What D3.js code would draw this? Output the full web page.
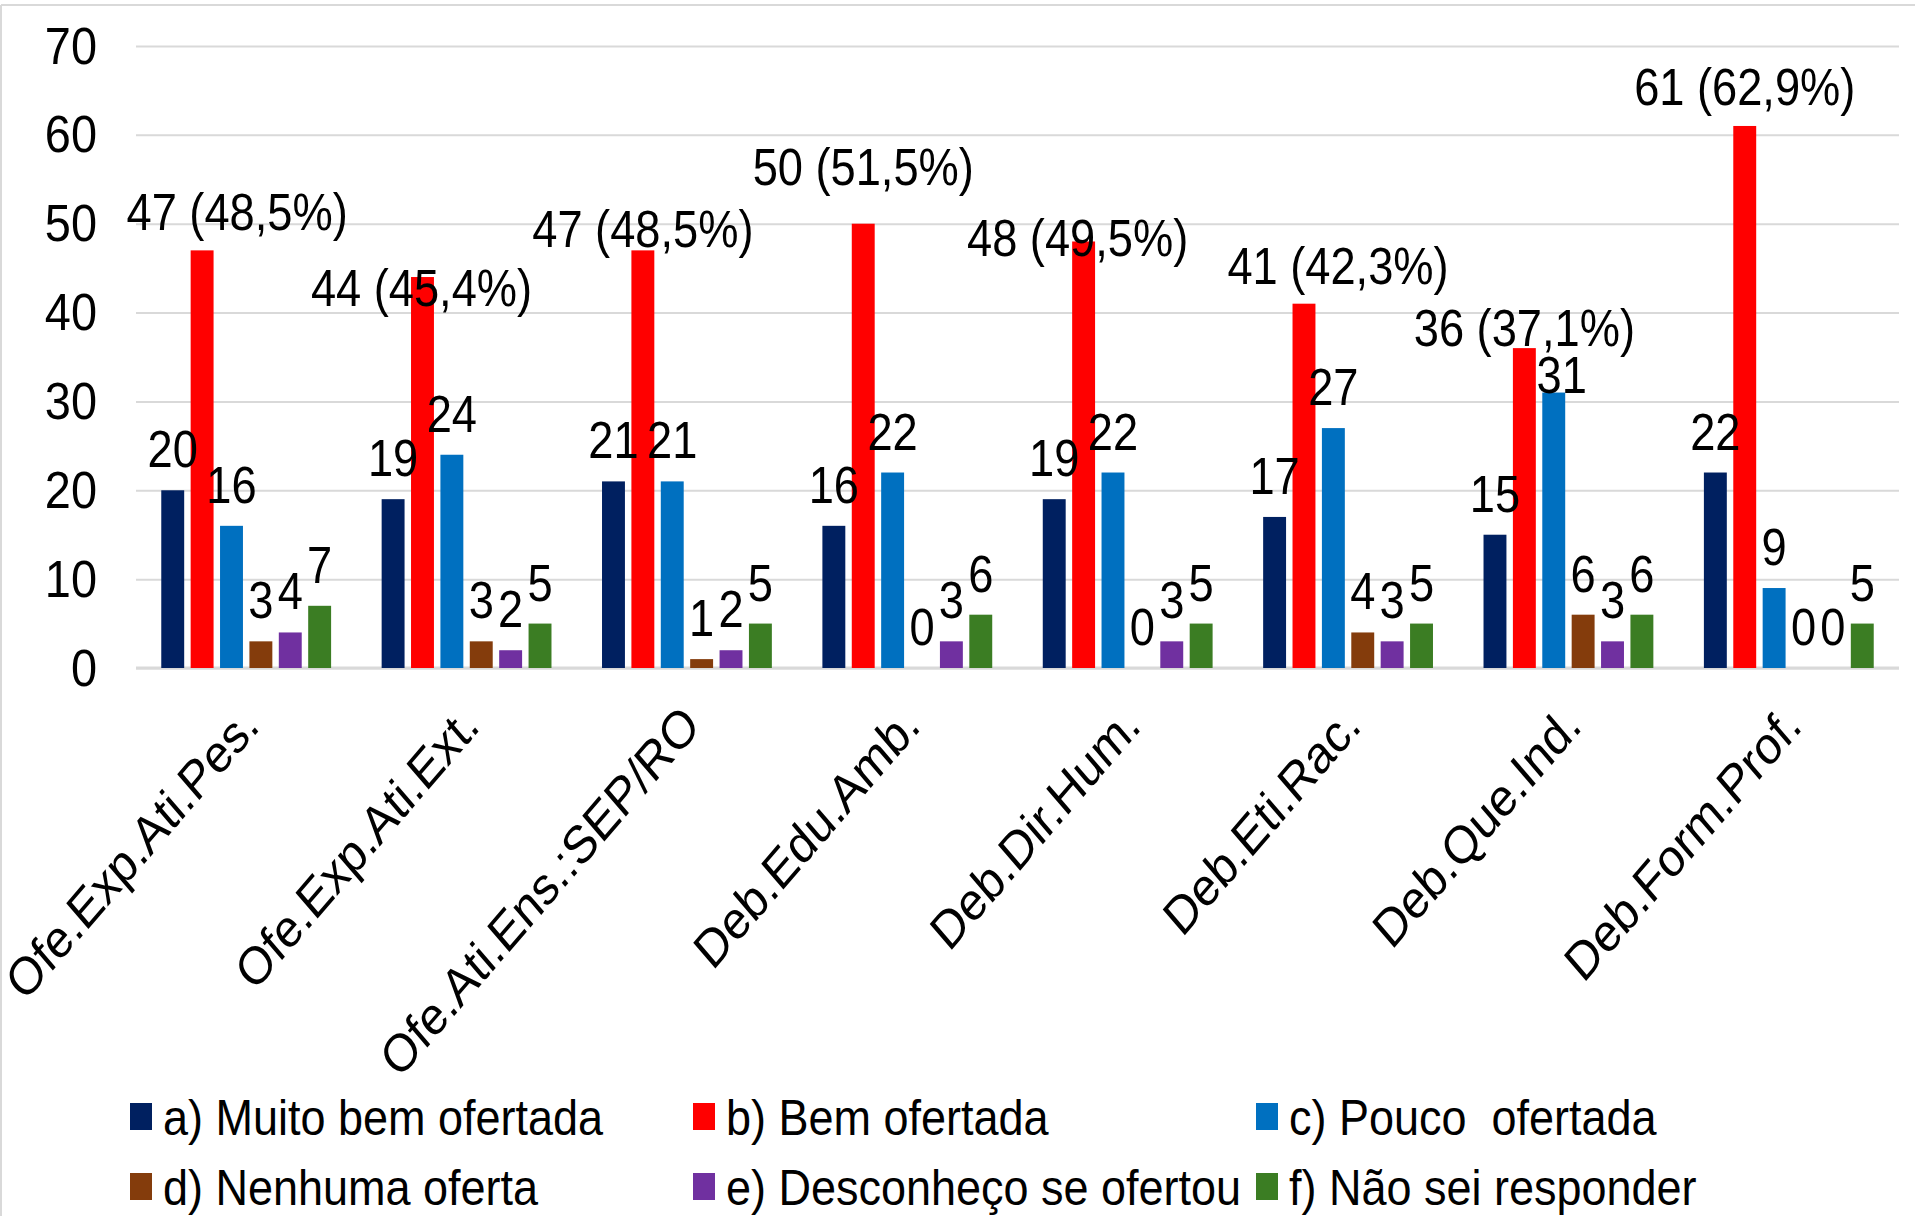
<!DOCTYPE html>
<html>
<head>
<meta charset="utf-8">
<script src="https://cdn.jsdelivr.net/npm/d3@7/dist/d3.min.js"></script>
<style>
  body { margin: 0; background: #fff; }
  svg { display: block; }
  text { font-family: "Liberation Sans", Arial, sans-serif; fill: #000; }
</style>
</head>
<body>
<div id="chart"></div>
<script>
// --- data ---
const categories = [
    "Ofe.Exp.Ati.Pes.", "Ofe.Exp.Ati.Ext.", "Ofe.Ati.Ens.:SEP/RO", "Deb.Edu.Amb.",
    "Deb.Dir.Hum.", "Deb.Eti.Rac.", "Deb.Que.Ind.", "Deb.Form.Prof."
];
const seriesNames = [
    "a) Muito bem ofertada", "b) Bem ofertada", "c) Pouco  ofertada",
    "d) Nenhuma oferta", "e) Desconheço se ofertou", "f) Não sei responder"
];
const muitoBem    = [20, 19, 21, 16, 19, 17, 15, 22];
const bem         = [47, 44, 47, 50, 48, 41, 36, 61];
const pouco       = [16, 24, 21, 22, 22, 27, 31, 9];
const nenhuma     = [3, 3, 1, 0, 0, 4, 6, 0];
const desconheco  = [4, 2, 2, 3, 3, 3, 3, 0];
const naoSei      = [7, 5, 5, 6, 5, 5, 6, 5];
const bemPercent  = ["48,5%", "45,4%", "48,5%", "51,5%", "49,5%", "42,3%", "37,1%", "62,9%"];
const yTicks      = [0, 10, 20, 30, 40, 50, 60, 70];

const colors = ["#002060", "#FF0000", "#0070C0", "#843C0C", "#7030A0", "#3B7D23"];

// hand-moved data labels in the original: "series-category" -> [dx, dy]
const labelNudge = {
    "1-0": [35, 3], "1-1": [-1, 52], "1-2": [0, 20], "1-3": [0, -16],
    "1-4": [-6, 38], "1-5": [34, 3], "1-6": [0, 21], "1-7": [0, 2],
    "2-6": [8, 23]
};

const series = [muitoBem, bem, pouco, nenhuma, desconheco, naoSei];

// --- layout ---
const W = 1915, H = 1216;
const plot = { left: 136, right: 1899, top: 46, bottom: 668 };
// the source image was squeezed sideways a little; text follows that
const LABEL_SIZE = 52, SQUEEZE = 0.87;

const svg = d3.select("#chart").append("svg")
    .attr("width", W).attr("height", H)
    .style("background", "#fff");

// outer frame (top + left edges visible in the original)
svg.append("line").attr("x1", 1).attr("x2", W).attr("y1", 5).attr("y2", 5)
    .attr("stroke", "#d9d9d9").attr("stroke-width", 2);
svg.append("line").attr("x1", 1).attr("x2", 1).attr("y1", 5).attr("y2", H)
    .attr("stroke", "#d9d9d9").attr("stroke-width", 2);

const x0 = d3.scaleBand().domain(categories)
    .range([plot.left, plot.right]).paddingInner(0.2).paddingOuter(0.1);
const x1 = d3.scaleBand().domain(d3.range(series.length))
    .range([0, x0.bandwidth()]).paddingInner(0.22).paddingOuter(0.11);
const y = d3.scaleLinear().domain([0, 70]).range([plot.bottom, plot.top]);

// y axis + gridlines
const yAxis = svg.append("g")
    .attr("transform", `translate(${plot.left},0)`)
    .call(d3.axisLeft(y).tickValues(yTicks).tickSize(-(plot.right - plot.left)));
yAxis.select(".domain").remove();
yAxis.selectAll(".tick line").attr("stroke", "#d9d9d9").attr("stroke-width", 2);
yAxis.selectAll(".tick text")
    .attr("x", 0).attr("y", 0).attr("dy", null)
    .attr("text-anchor", "end")
    .attr("font-size", 51)
    .attr("font-family", "\"Liberation Sans\", Arial, sans-serif")
    .attr("transform", "translate(-39,17) scale(0.92,1)");

// baseline
svg.append("line")
    .attr("x1", plot.left).attr("x2", plot.right)
    .attr("y1", y(0)).attr("y2", y(0))
    .attr("stroke", "#d9d9d9").attr("stroke-width", 3);

// bars
const groups = svg.append("g").selectAll("g")
    .data(categories)
    .join("g")
    .attr("transform", d => `translate(${x0(d)},0)`);

groups.selectAll("rect")
    .data((d, ci) => series.map((s, si) => ({ si, ci, v: s[ci] })))
    .join("rect")
    .attr("x", d => x1(d.si))
    .attr("width", x1.bandwidth())
    .attr("y", d => y(d.v))
    .attr("height", d => y(0) - y(d.v))
    .attr("fill", d => colors[d.si]);

// data labels
const labels = svg.append("g");
series.forEach((s, si) => {
    s.forEach((v, ci) => {
        const n = labelNudge[`${si}-${ci}`] || [0, 0];
        const cx = x0(categories[ci]) + x1(si) + x1.bandwidth() / 2 + n[0];
        const by = y(v) - 23 + n[1];
        labels.append("text")
            .attr("text-anchor", "middle")
            .attr("font-size", LABEL_SIZE)
            .attr("transform", `translate(${cx},${by}) scale(${SQUEEZE},1)`)
            .text(si === 1 ? `${v} (${bemPercent[ci]})` : v);
    });
});

// x axis labels, rotated 45deg then squeezed like the source image
const xAxis = svg.append("g")
    .attr("transform", `translate(0,${plot.bottom})`)
    .call(d3.axisBottom(x0).tickSize(0));
xAxis.select(".domain").remove();
xAxis.selectAll(".tick text")
    .attr("x", 0).attr("y", 0).attr("dy", null)
    .attr("text-anchor", "end")
    .attr("font-size", 53)
    .attr("font-family", "\"Liberation Sans\", Arial, sans-serif")
    .attr("transform", "translate(15,60) scale(0.86,1) rotate(-45)");

// legend
const legendCols = 3, colStep = 563, rowStep = 70;
const legend = svg.append("g").attr("transform", "translate(130,1103)");
seriesNames.forEach((name, i) => {
    const g = legend.append("g")
        .attr("transform", `translate(${(i % legendCols) * colStep},${Math.floor(i / legendCols) * rowStep})`);
    g.append("rect").attr("width", 22).attr("height", 27).attr("fill", colors[i]);
    g.append("text")
        .attr("transform", "translate(33,32) scale(0.9,1)")
        .attr("font-size", 50)
        .style("white-space", "pre")
        .text(name);
});
</script>
</body>
</html>
